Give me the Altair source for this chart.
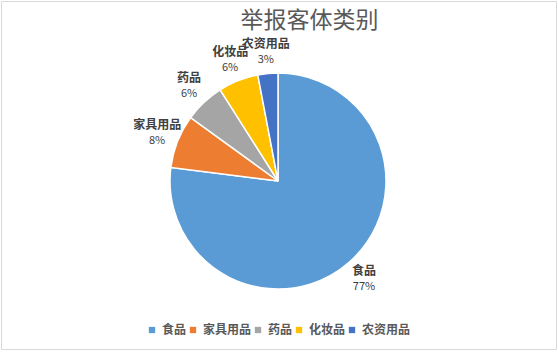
import altair as alt
import pandas as pd

categories = ["食品", "家具用品", "药品", "化妆品", "农资用品"]
values = [77, 8, 6, 6, 3]
pct_labels = ["77%", "8%", "6%", "6%", "3%"]
colors = ["#5B9BD5", "#ED7D31", "#A5A5A5", "#FFC000", "#4472C4"]

df = pd.DataFrame({
    "类别": categories,
    "value": values,
    "pct": pct_labels,
    "order": list(range(len(categories))),
})

FONT = "Noto Sans CJK SC"
CX, CY = 277, 180

base = alt.Chart(df).encode(
    theta=alt.Theta("value:Q", stack=True),
    order=alt.Order("order:Q"),
    x=alt.value(CX),
    y=alt.value(CY),
)

arcs = base.mark_arc(outerRadius=108, stroke="white", strokeWidth=1.5).encode(
    color=alt.Color(
        "类别:N",
        scale=alt.Scale(domain=categories, range=colors),
        sort=categories,
        legend=alt.Legend(
            title=None,
            orient="none",
            direction="horizontal",
            legendX=145,
            legendY=323,
            symbolType="square",
            symbolSize=40,
            symbolStrokeWidth=0,
            labelFont=FONT,
            labelFontSize=12,
            labelFontWeight="bold",
            labelColor="#595959",
            labelOffset=4,
            columnPadding=0,
        ),
    )
)

names = base.mark_text(
    radius=130, dy=-8, font=FONT, fontSize=12, fontWeight="bold", color="#404040"
).encode(text="类别:N")

pcts = base.mark_text(
    radius=130, dy=8, font=FONT, fontSize=11, color="#404040"
).encode(text="pct:N")

chart = (
    alt.layer(arcs, names, pcts)
    .properties(
        width=555,
        height=348,
        padding={"left": 1, "top": 1, "right": 2, "bottom": 3},
        autosize=alt.AutoSizeParams(type="none"),
        title=alt.TitleParams(
            "举报客体类别",
            font=FONT,
            fontSize=23,
            fontWeight="normal",
            color="#595959",
            anchor="middle",
            dx=31,
            dy=36,
        ),
        background="white",
    )
    .configure_view(stroke="#D9D9D9", strokeWidth=1)
)

chart.save("out.html", embed_options={"renderer": "svg", "actions": False})
